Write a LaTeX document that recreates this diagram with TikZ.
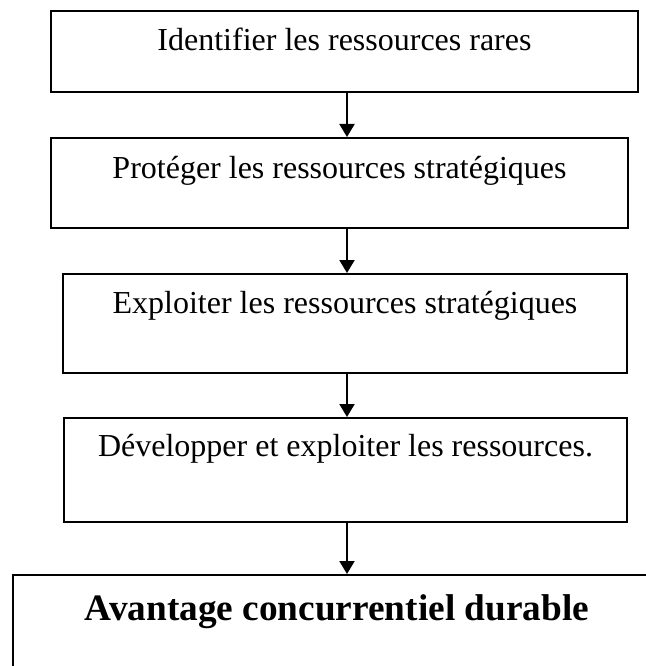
\documentclass[tikz,border=0pt]{standalone}
\usepackage{fontspec}
\setmainfont{Liberation Serif}
\usetikzlibrary{arrows.meta}
\begin{document}
\begin{tikzpicture}[x=1pt,y=-1pt,
  stage/.style={draw, line width=2pt, inner sep=0pt, anchor=north west,
    font=\fontsize{32}{38}\selectfont},
  goal/.style={stage, font=\fontsize{37.3}{44}\selectfont\bfseries},
  flow/.style={line width=2pt, -{Triangle[width=15pt,length=13pt]}}]
\useasboundingbox (0,0) rectangle (645,666);

% process steps
\node[stage, minimum width=587pt, text height=40pt, text depth=41pt] (b1) at (50,10)
  {Identifier les ressources rares};
\node[stage, minimum width=577pt, text height=40pt, text depth=50pt] (b2) at (50,137)
  {Protéger les ressources stratégiques};
\node[stage, minimum width=564pt, text height=39pt, text depth=60pt] (b3) at (62,273)
  {Exploiter les ressources stratégiques};
\node[stage, minimum width=563pt, text height=38pt, text depth=66pt] (b4) at (63,417)
  {Développer et exploiter les ressources.};
\node[goal, minimum width=648pt, text height=45pt, text depth=100pt] (b5) at (12,574)
  {Avantage concurrentiel durable};

% vertical flow arrows
\coordinate (ax) at (347,0);
\draw[flow] (b1.south -| ax) -- (b2.north -| ax);
\draw[flow] (b2.south -| ax) -- (b3.north -| ax);
\draw[flow] (b3.south -| ax) -- (b4.north -| ax);
\draw[flow] (b4.south -| ax) -- (b5.north -| ax);
\end{tikzpicture}
\end{document}
